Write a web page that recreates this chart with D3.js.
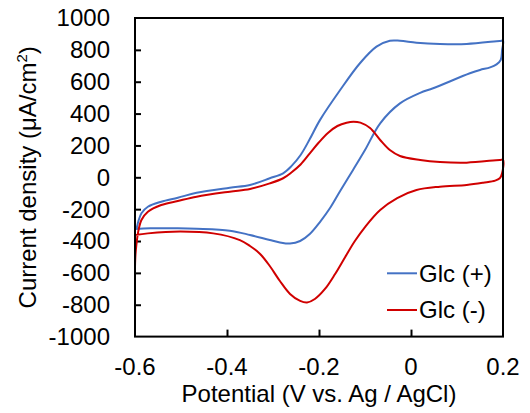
<!DOCTYPE html>
<html>
<head>
<meta charset="utf-8">
<script src="https://cdn.jsdelivr.net/npm/d3@7"></script>
<style>
  body { margin: 0; background: #fff; }
  text { font-family: "Liberation Sans", Arial, sans-serif; fill: #000; }
</style>
</head>
<body>
<svg id="chart"></svg>
<script>
// Glc (+) : forward scan then reverse scan
const blueV = [-0.600, -0.597, -0.593, -0.586, -0.572, -0.543, -0.507, -0.466, -0.394, -0.350, -0.307, -0.278, -0.260, -0.240, -0.220, -0.198, -0.154, -0.111, -0.075, -0.046, -0.024, 0.012, 0.063, 0.121, 0.193, 0.200,
	0.198, 0.195, 0.186, 0.172, 0.150, 0.128, 0.048, 0.020, -0.024, -0.067, -0.100, -0.126, -0.154, -0.176, -0.198, -0.220, -0.241, -0.263, -0.285, -0.307, -0.350, -0.394, -0.466, -0.507, -0.567, -0.600]
const blueI = [-325, -320, -279, -226, -185, -153, -128, -97, -65, -48, -6, 25, 70, 140, 240, 359, 548, 716, 820, 857, 857, 845, 837, 837, 856, 857,
	799, 736, 709, 690, 674, 653, 559, 530, 464, 339, 171, 46, -86, -193, -281, -356, -400, -416, -409, -394, -362, -335, -323, -320, -320, -325]

// Glc (-)
const redV = [-0.600, -0.599, -0.597, -0.593, -0.586, -0.572, -0.543, -0.507, -0.466, -0.394, -0.350, -0.307, -0.278, -0.260, -0.240, -0.220, -0.200, -0.180, -0.160, -0.140, -0.125, -0.110, -0.089, -0.067, -0.046, -0.024, 0.020, 0.063, 0.121, 0.193, 0.200,
	0.198, 0.193, 0.183, 0.157, 0.121, 0.063, 0.012, -0.030, -0.067, -0.100, -0.122, -0.143, -0.165, -0.187, -0.209, -0.226, -0.241, -0.263, -0.285, -0.307, -0.328, -0.350, -0.372, -0.430, -0.502, -0.572, -0.600]
const redI = [-561, -488, -425, -341, -268, -216, -174, -149, -122, -90, -73, -38, -6, 30, 80, 150, 220, 280, 322, 343, 349, 343, 309, 234, 171, 134, 109, 96, 92, 109, 109,
	25, -6, -21, -34, -48, -59, -80, -130, -205, -312, -400, -500, -607, -701, -764, -786, -776, -732, -651, -557, -481, -431, -394, -352, -341, -352, -362]

const seriesNames = ["Glc (+)", "Glc (-)"]
const seriesColors = ["#4472C4", "#D00000"]

const xTicks = [-0.6, -0.4, -0.2, 0, 0.2]
const yTicks = [-1000, -800, -600, -400, -200, 0, 200, 400, 600, 800, 1000]

const width = 530, height = 413
const plotL = 135, plotR = 503, plotT = 18, plotB = 336.6

const svg = d3.select("#chart")
	.attr("width", width)
	.attr("height", height)

const x = d3.scaleLinear().domain([-0.6, 0.2]).range([plotL, plotR])
const y = d3.scaleLinear().domain([-1000, 1000]).range([plotB, plotT])

// ticks (inside the frame)
svg.append("g")
	.attr("transform", `translate(0, ${plotB})`)
	.call(d3.axisTop(x).tickValues(xTicks.slice(1, -1)).tickSize(7).tickFormat(""))
	.call(g => g.select(".domain").remove())
	.selectAll("line").attr("stroke", "#000").attr("stroke-width", 2)

svg.append("g")
	.attr("transform", `translate(${plotL}, 0)`)
	.call(d3.axisRight(y).tickValues(yTicks.slice(1, -1)).tickSize(6).tickFormat(""))
	.call(g => g.select(".domain").remove())
	.selectAll("line").attr("stroke", "#000").attr("stroke-width", 2)

// tick labels (plain hyphen minus like the original)
svg.append("g").selectAll("text")
	.data(yTicks)
	.join("text")
	.attr("x", plotL - 25)
	.attr("y", d => y(d))
	.attr("dy", "0.35em")
	.attr("text-anchor", "end")
	.style("font-size", "24px")
	.text(d => String(d))

svg.append("g").selectAll("text")
	.data(xTicks)
	.join("text")
	.attr("x", d => x(d))
	.attr("y", plotB + 38)
	.attr("text-anchor", "middle")
	.style("font-size", "24px")
	.text(d => String(d))

// curves
const line = d3.line()
	.x(d => x(d[0]))
	.y(d => y(d[1]))
	.curve(d3.curveCatmullRom.alpha(0.5))

const series = [d3.zip(blueV, blueI), d3.zip(redV, redI)]

svg.append("g").selectAll("path")
	.data(series)
	.join("path")
	.attr("fill", "none")
	.attr("stroke", (d, i) => seriesColors[i])
	.attr("stroke-width", 2)
	.attr("stroke-linejoin", "round")
	.attr("d", line)

// frame
svg.append("rect")
	.attr("x", plotL)
	.attr("y", plotT)
	.attr("width", plotR - plotL)
	.attr("height", plotB - plotT)
	.attr("fill", "none")
	.attr("stroke", "#000")
	.attr("stroke-width", 2)

// axis titles
svg.append("text")
	.attr("x", (plotL + plotR) / 2)
	.attr("y", 402)
	.attr("text-anchor", "middle")
	.style("font-size", "24px")
	.text("Potential (V vs. Ag / AgCl)")

const yTitle = svg.append("text")
	.attr("transform", `translate(36, ${(plotT + plotB) / 2}) rotate(-90)`)
	.attr("text-anchor", "middle")
	.style("font-size", "24px")
yTitle.append("tspan").text("Current density (μA/cm")
yTitle.append("tspan").attr("dy", -9).style("font-size", "15px").text("2")
yTitle.append("tspan").attr("dy", 9).text(")")

// legend
const legend = svg.append("g").selectAll("g")
	.data(seriesNames)
	.join("g")
	.attr("transform", (d, i) => `translate(387, ${273.3 + i * 36.7})`)
legend.append("line")
	.attr("x1", 0).attr("x2", 30)
	.attr("stroke", (d, i) => seriesColors[i])
	.attr("stroke-width", 2)
legend.append("text")
	.attr("x", 32)
	.attr("dy", "0.35em")
	.style("font-size", "24px")
	.text(d => d)
</script>
</body>
</html>
